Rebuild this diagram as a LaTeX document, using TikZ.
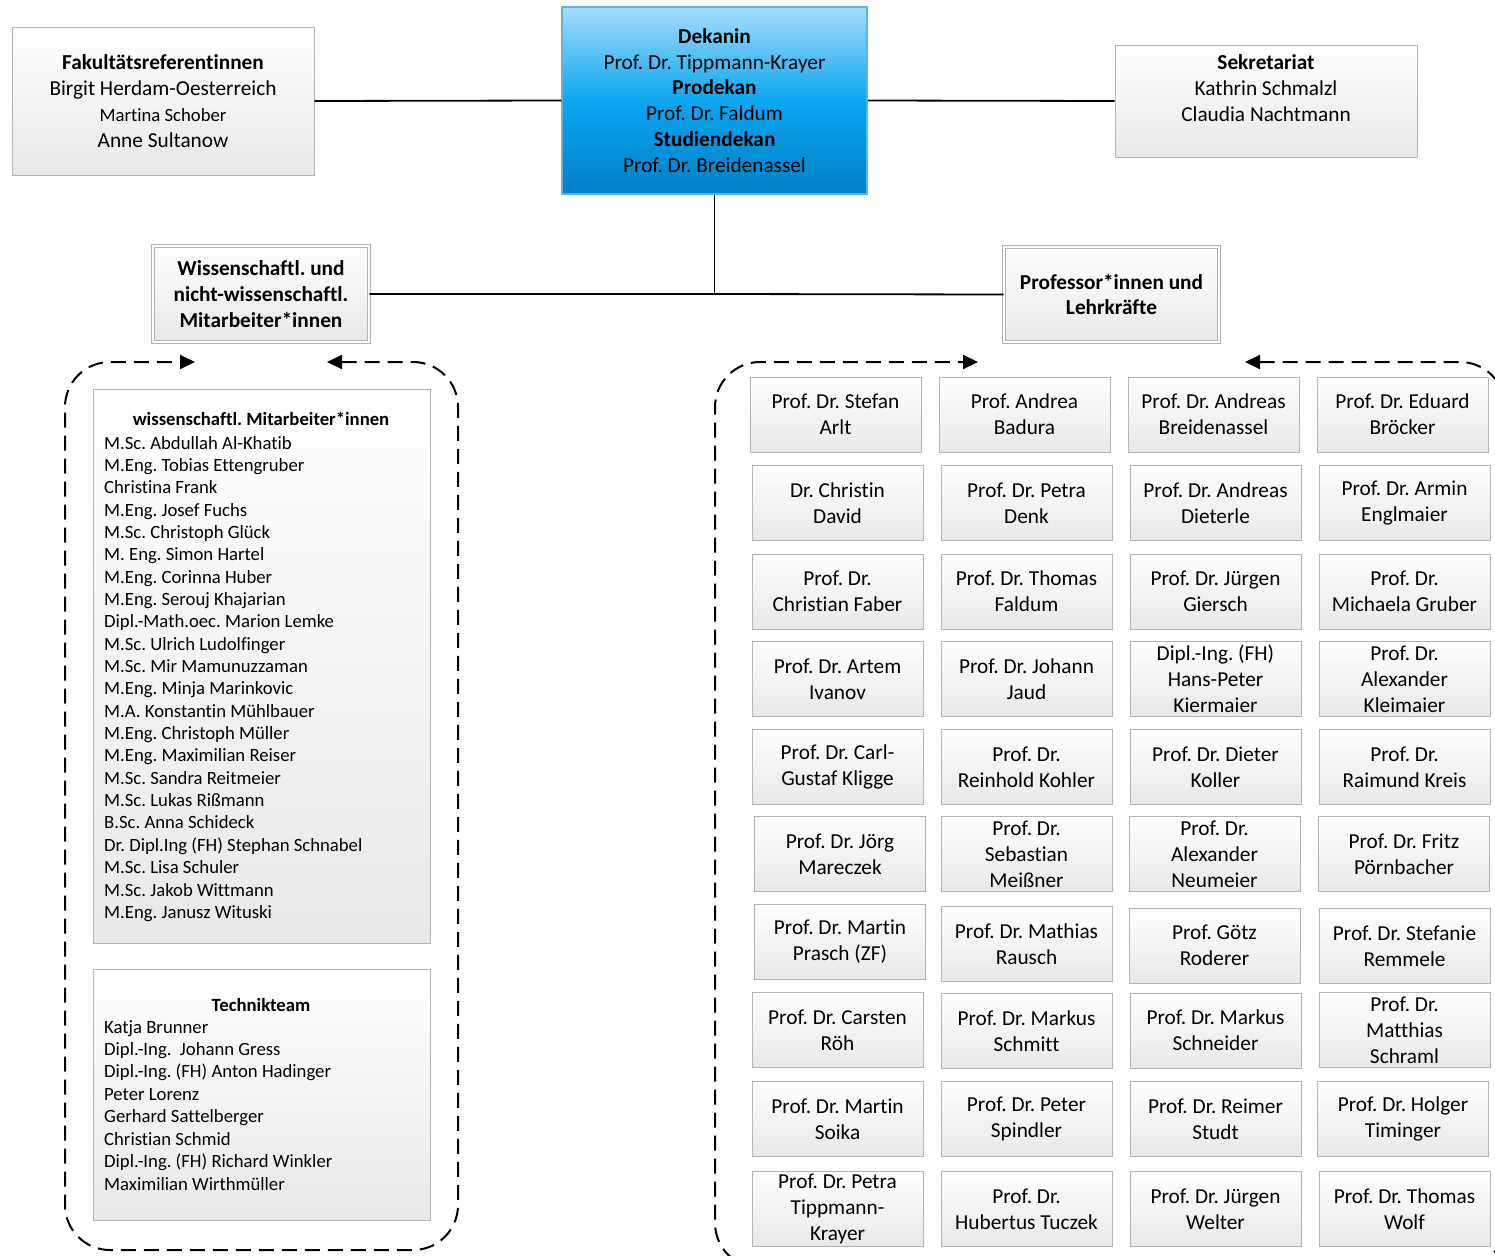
\documentclass[tikz,border=0pt]{standalone}
\usepackage{fontspec}
\setmainfont[Ligatures=NoCommon]{Carlito}
\usetikzlibrary{arrows.meta}
\definecolor{boxline}{RGB}{180,180,180}
\definecolor{boxbot}{RGB}{232,232,232}
\definecolor{dektop}{RGB}{165,220,250}
\definecolor{dekmid}{RGB}{12,166,240}
\definecolor{dekbot}{RGB}{0,128,200}
\definecolor{dekline}{RGB}{95,180,230}
\frenchspacing
\begin{document}
\begin{tikzpicture}[x=1pt,y=-1pt,
  every node/.style={font=\fontsize{21.3}{25.8}\selectfont, inner sep=0pt, text=black},
  graybox/.style={rectangle, draw=boxline, line width=0.9pt, top color=white, bottom color=boxbot, align=center},
  profbox/.style={graybox, minimum width=171pt, minimum height=75pt},
  headbox/.style={graybox, draw=gray!60, double=white, double distance=2.5pt, line width=0.9pt},
  dekbox/.style={rectangle, draw=dekline, line width=1.5pt, top color=dektop, bottom color=dekbot, middle color=dekmid, align=center},
  conn/.style={draw=black, line width=1.8pt},
  dashline/.style={draw=black, line width=2pt, dash pattern=on 15pt off 8pt, rounded corners=45pt, >={Triangle[length=15pt, width=14pt]}, <->},
  listtext/.style={font=\fontsize{18.7}{22.4}\selectfont, anchor=base west}
]
\useasboundingbox (0,0) rectangle (1495,1255);
\clip (0,0) rectangle (1495,1255);

% top row
\node[graybox, minimum width=302pt, minimum height=148pt] (fak) at (163,101)
  {\textbf{Fakultätsreferentinnen}\\Birgit Herdam-Oesterreich\\{\fontsize{18.7}{25.8}\selectfont Martina Schober}\\Anne Sultanow};
\node[dekbox, minimum width=305pt, minimum height=187pt] (dek) at (714.5,100.5)
  {\textbf{Dekanin}\\Prof. Dr. Tippmann-Krayer\\\textbf{Prodekan}\\Prof. Dr. Faldum\\\textbf{Studiendekan}\\Prof. Dr. Breidenassel};
\node[graybox, minimum width=302pt, minimum height=112pt] (sek) at (1266,101) {};
\node[align=center] (sekt) at (1266,88) {\textbf{Sekretariat}\\Kathrin Schmalzl\\Claudia Nachtmann};

% second level
\node[headbox, minimum width=216pt, minimum height=96pt] (wiss) at (261,294)
  {\textbf{Wissenschaftl. und}\\\textbf{nicht-wissenschaftl.}\\\textbf{Mitarbeiter*innen}};
\node[headbox, minimum width=215pt, minimum height=95pt] (prof) at (1111.5,294.5)
  {\textbf{Professor*innen und}\\\textbf{Lehrkräfte}};

\coordinate (j) at (714.5,294);
\draw[conn] (fak.east) -- (dek.west);
\draw[conn] (dek.east) -- (sek.west);
\draw[conn] (dek.south) -- (j);
\draw[conn] (wiss.east) -- (j) -- (prof.west);

% dashed groups
\coordinate (la) at (327,362);
\coordinate (lb) at (195,362);
\draw[dashline] (la) -- (458,362) -- (458,1250) -- (65,1250) -- (65,362) -- (lb);
\coordinate (ra) at (1245,362);
\coordinate (rb) at (978,362);
\draw[dashline] (ra) -- (1505,362) -- (1505,1268) -- (715,1268) -- (715,362) -- (rb);

% left lists
\node[graybox, minimum width=337pt, minimum height=554pt, anchor=north west] (wm) at (93,389) {};
\node[graybox, minimum width=337pt, minimum height=251pt, anchor=north west] (tt) at (93,969) {};
\node[font=\fontsize{18.7}{22.4}\selectfont\bfseries, anchor=base] (wmt) at (261,425.5) {wissenschaftl. Mitarbeiter*innen};
\foreach \t [count=\i] in {M.Sc. Abdullah Al-Khatib, M.Eng. Tobias Ettengruber, Christina Frank, M.Eng. Josef Fuchs, M.Sc. Christoph Glück, M. Eng. Simon Hartel, M.Eng. Corinna Huber, M.Eng. Serouj Khajarian, Dipl.-Math.oec. Marion Lemke, M.Sc. Ulrich Ludolfinger, M.Sc. Mir Mamunuzzaman, M.Eng. Minja Marinkovic, M.A. Konstantin Mühlbauer, M.Eng. Christoph Müller, M.Eng. Maximilian Reiser, M.Sc. Sandra Reitmeier, M.Sc. Lukas Rißmann, B.Sc. Anna Schideck, Dr. Dipl.Ing (FH) Stephan Schnabel, M.Sc. Lisa Schuler, M.Sc. Jakob Wittmann, M.Eng. Janusz Wituski}
  \node[listtext] (wm\i) at (104,{449+22.35*(\i-1)}) {\t};
\node[font=\fontsize{18.7}{22.4}\selectfont\bfseries, anchor=base] (ttt) at (261,1011) {Technikteam};
\foreach \t [count=\i] in {Katja Brunner, Dipl.-Ing.\ \ Johann Gress, Dipl.-Ing. (FH) Anton Hadinger, Peter Lorenz, Gerhard Sattelberger, Christian Schmid, Dipl.-Ing. (FH) Richard Winkler, Maximilian Wirthmüller}
  \node[listtext] (tt\i) at (104,{1033+22.45*(\i-1)}) {\t};

% professor grid
\foreach \x/\y/\t [count=\i] in {
 835.5/414.5/{Prof. Dr. Stefan\\Arlt}, 1024.5/414.5/{Prof. Andrea\\Badura}, 1213.5/414.5/{Prof. Dr. Andreas\\Breidenassel}, 1402.5/414.5/{Prof. Dr. Eduard\\Bröcker},
 837.5/503/{Dr. Christin\\David}, 1026.5/503/{Prof. Dr. Petra\\Denk}, 1215.5/503/{Prof. Dr. Andreas\\Dieterle}, 1404.5/503/{Prof. Dr. Armin\\Englmaier},
 837.5/591.5/{Prof. Dr.\\Christian Faber}, 1026.5/591.5/{Prof. Dr. Thomas\\Faldum}, 1215.5/591.5/{Prof. Dr. Jürgen\\Giersch}, 1404.5/591.5/{Prof. Dr.\\Michaela Gruber},
 837.5/679/{Prof. Dr. Artem\\Ivanov}, 1026.5/679/{Prof. Dr. Johann\\Jaud}, 1215.5/679/{Dipl.-Ing. (FH)\\Hans-Peter\\Kiermaier}, 1404.5/679/{Prof. Dr.\\Alexander\\Kleimaier},
 837.5/767/{Prof. Dr. Carl-\\Gustaf Kligge}, 1026.5/767/{Prof. Dr.\\Reinhold Kohler}, 1215.5/767/{Prof. Dr. Dieter\\Koller}, 1404.5/767/{Prof. Dr.\\Raimund Kreis},
 840/854/{Prof. Dr. Jörg\\Mareczek}, 1026.5/854/{Prof. Dr.\\Sebastian\\Meißner}, 1214.5/854/{Prof. Dr.\\Alexander\\Neumeier}, 1404/854/{Prof. Dr. Fritz\\Pörnbacher},
 840/941.5/{Prof. Dr. Martin\\Prasch (ZF)}, 1026.5/944/{Prof. Dr. Mathias\\Rausch}, 1214.5/945.5/{Prof. Götz\\Roderer}, 1404.5/946/{Prof. Dr. Stefanie\\Remmele},
 837.5/1030/{Prof. Dr. Carsten\\Röh}, 1026.5/1031/{Prof. Dr. Markus\\Schmitt}, 1215.5/1030.5/{Prof. Dr. Markus\\Schneider}, 1404.5/1030/{Prof. Dr.\\Matthias\\Schraml},
 837.5/1119/{Prof. Dr. Martin\\Soika}, 1026.5/1119/{Prof. Dr. Peter\\Spindler}, 1215.5/1119/{Prof. Dr. Reimer\\Studt}, 1403/1119/{Prof. Dr. Holger\\Timinger},
 837.5/1209/{Prof. Dr. Petra\\Tippmann-\\Krayer}, 1026.5/1209/{Prof. Dr.\\Hubertus Tuczek}, 1215.5/1209/{Prof. Dr. Jürgen\\Welter}, 1404.5/1209/{Prof. Dr. Thomas\\Wolf}}
  \node[profbox] (p\i) at (\x,\y) {\t};
\end{tikzpicture}
\end{document}
